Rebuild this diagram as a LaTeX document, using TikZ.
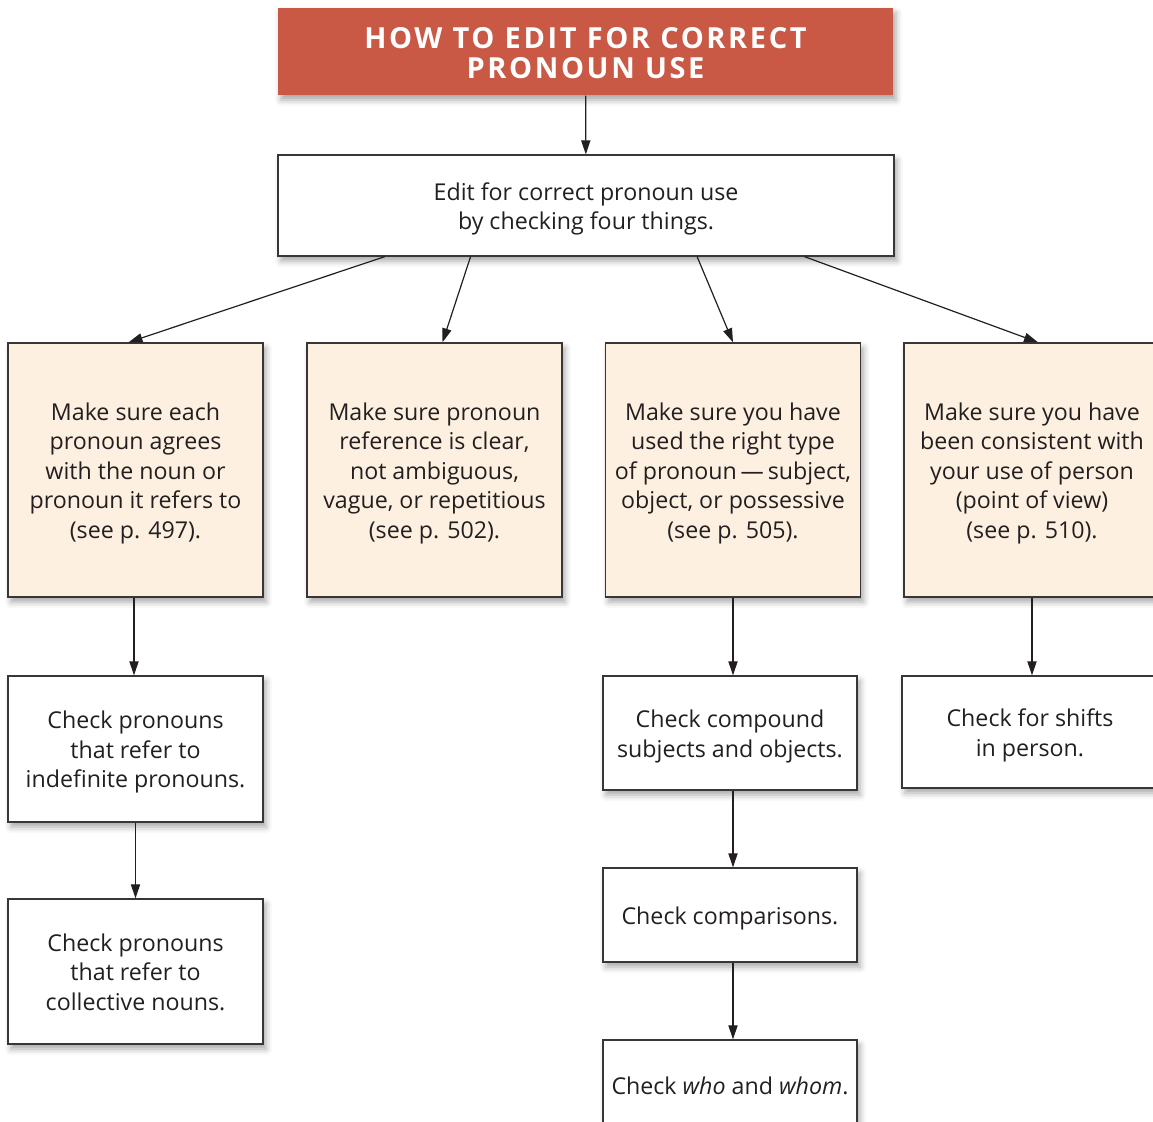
\documentclass[tikz,border=0pt]{standalone}
\usepackage{fontspec}
\setmainfont{Open Sans}
\newfontfamily\titlefont[LetterSpace=9]{Open Sans}
\usetikzlibrary{arrows.meta,shadows.blur,calc}
\definecolor{titlered}{RGB}{201,88,69}
\definecolor{peach}{RGB}{253,240,224}
\definecolor{boxline}{RGB}{55,55,55}
\definecolor{inktext}{RGB}{35,31,32}
% struts that keep the lines centred on the box
\newcommand\topstrut{\rule{0pt}{13pt}}
\newcommand\botstrut{\rule[-3.5pt]{0pt}{3.5pt}}

\begin{document}
\begin{tikzpicture}[x=0.5pt, y=-0.5pt, >={Triangle[length=7pt,width=4.6pt]},
    box/.style={draw=boxline, line width=0.65pt, fill=white, align=center, inner sep=0pt,
      text=inktext, font=\fontsize{11.6}{14.75}\selectfont,
      blur shadow={shadow xshift=1.5pt, shadow yshift=-2.5pt, shadow blur radius=3pt, shadow opacity=35}},
    stepbox/.style={box, fill=peach, minimum width=127.5pt, minimum height=127pt},
    checkbox/.style={box, minimum width=127.5pt},
    link/.style={->, line width=0.6pt, draw=inktext}]
    \useasboundingbox (0,0) rectangle (1153,1122);
    % title and first box
    \node[box, fill=titlered, draw=none, text=white, minimum width=307.5pt, minimum height=43.5pt,
      font=\titlefont\bfseries\fontsize{14.5}{15}\selectfont] (title) at (585.5,51.5)
      {\rule{0pt}{15pt}HOW TO EDIT FOR CORRECT\\PRONOUN USE\rule[-3pt]{0pt}{3pt}};
    \node[box, minimum width=308pt, minimum height=50.5pt] (top) at (586,205.5)
      {\topstrut Edit for correct pronoun use\\by checking four things.\botstrut};
    % the four things
    \node[stepbox] (agree) at (135.5,470) {\topstrut Make sure each\\pronoun agrees\\with the noun or\\pronoun it refers to\\(see p. 497).\botstrut};
    \node[stepbox] (refer) at (434.5,470) {\topstrut Make sure pronoun\\reference is clear,\\not ambiguous,\\vague, or repetitious\\(see p. 502).\botstrut};
    \node[stepbox] (type) at (733,470) {\topstrut Make sure you have\\used the right type\\of pronoun\,—\,subject,\\object, or possessive\\(see p. 505).\botstrut};
    \node[stepbox, minimum width=128pt] (person) at (1032,470) {\topstrut Make sure you have\\been consistent with\\your use of person\\(point of view)\\(see p. 510).\botstrut};
    % checks
    \node[checkbox, minimum height=73pt] (indef) at (135.5,749) {\topstrut Check pronouns\\that refer to\\indefinite pronouns.\botstrut};
    \node[checkbox, minimum height=72.5pt] (coll) at (135.5,971.5) {\topstrut Check pronouns\\that refer to\\collective nouns.\botstrut};
    \node[checkbox, minimum width=127pt, minimum height=57pt] (comp) at (730,733) {\topstrut Check compound\\subjects and objects.\botstrut};
    \node[checkbox, minimum width=127pt, minimum height=47pt] (compar) at (730,915) {\topstrut Check comparisons.\botstrut};
    \node[checkbox, minimum width=127pt, minimum height=45pt] (who) at (730,1085) {\topstrut Check \textit{who} and \textit{whom}.\botstrut};
    \node[checkbox, minimum width=128pt, minimum height=56pt] (shift) at (1030,732) {\topstrut Check for shifts\\in person.\botstrut};
    % connectors
    \draw[link] (title) -- (top);
    \draw[link] ($(top.south west)!0.174!(top.south east)$) -- ([xshift=-3.5pt]agree.north);
    \draw[link] ($(top.south west)!0.313!(top.south east)$) -- ([xshift=4pt]refer.north);
    \draw[link] ($(top.south west)!0.680!(top.south east)$) -- (type.north);
    \draw[link] ($(top.south west)!0.854!(top.south east)$) -- ([xshift=3pt]person.north);
    \draw[link] ([xshift=-0.75pt]agree.south) -- ([xshift=-0.75pt]indef.north);
    \draw[link] (indef) -- (coll);
    \draw[link] (type.south) -- (type.south |- comp.north);
    \draw[link] (type.south |- comp.south) -- (type.south |- compar.north);
    \draw[link] (type.south |- compar.south) -- (type.south |- who.north);
    \draw[link] (person.south) -- (person.south |- shift.north);
\end{tikzpicture}
\end{document}
